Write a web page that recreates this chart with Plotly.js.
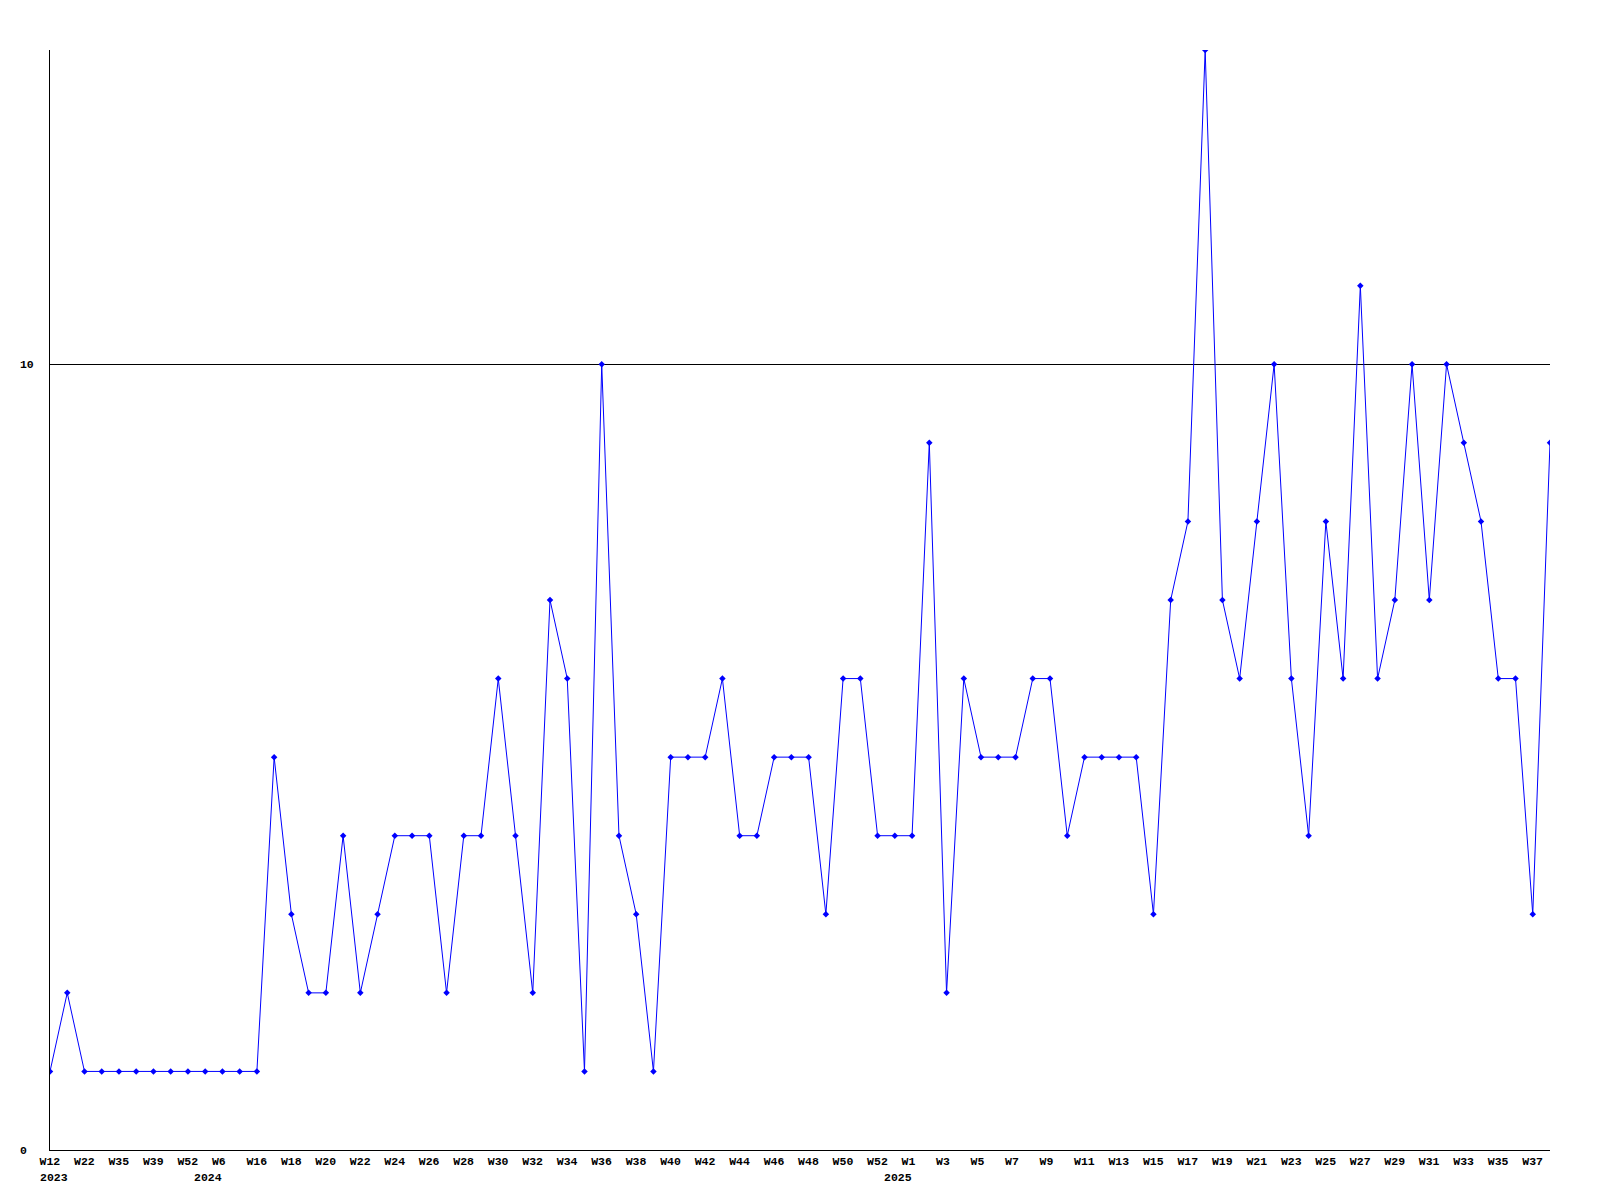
<!DOCTYPE html>
<html>
<head>
<meta charset="utf-8">
<script src="https://cdn.plot.ly/plotly-3.0.1.min.js"></script>
<style>html,body{margin:0;padding:0;background:#fff;}#chart{width:1600px;height:1200px;}</style>
</head>
<body>
<div id="chart"></div>
<script>
// Week labels for every point (odd-indexed ones are not labelled in the reference; guessed)
const weeks = [
  "W12","W17","W22","W27","W35","W37","W39","W44","W52","W1",
  "W6","W11","W16","W17","W18","W19","W20","W21","W22","W23",
  "W24","W25","W26","W27","W28","W29","W30","W31","W32","W33",
  "W34","W35","W36","W37","W38","W39","W40","W41","W42","W43",
  "W44","W45","W46","W47","W48","W49","W50","W51","W52","W53",
  "W1","W2","W3","W4","W5","W6","W7","W8","W9","W10",
  "W11","W12","W13","W14","W15","W16","W17","W18","W19","W20",
  "W21","W22","W23","W24","W25","W26","W27","W28","W29","W30",
  "W31","W32","W33","W34","W35","W36","W37","W38"
];
const years = [
  2023,2023,2023,2023,2023,2023,2023,2023,2023,2024,
  2024,2024,2024,2024,2024,2024,2024,2024,2024,2024,
  2024,2024,2024,2024,2024,2024,2024,2024,2024,2024,
  2024,2024,2024,2024,2024,2024,2024,2024,2024,2024,
  2024,2024,2024,2024,2024,2024,2024,2024,2024,2024,
  2025,2025,2025,2025,2025,2025,2025,2025,2025,2025,
  2025,2025,2025,2025,2025,2025,2025,2025,2025,2025,
  2025,2025,2025,2025,2025,2025,2025,2025,2025,2025,
  2025,2025,2025,2025,2025,2025,2025,2025
];
const values = [
  1,2,1,1,1,1,1,1,1,1,
  1,1,1,5,3,2,2,4,2,3,
  4,4,4,2,4,4,6,4,2,7,
  6,1,10,4,3,1,5,5,5,6,
  4,4,5,5,5,3,6,6,4,4,
  4,9,2,6,5,5,5,6,6,4,
  5,5,5,5,3,7,8,14,7,6,
  8,10,6,4,8,6,11,6,7,10,
  7,10,9,8,6,6,3,9
];
const yTicks = [0, 10];

const idx = values.map((_, i) => i);
const tickvals = [];
const ticktext = [];
const yearNotes = [];
let lastYear = null;
const font = {family: "Liberation Mono, DejaVu Sans Mono, monospace", size: 11.5, color: "#000", weight: "bold"};
for (let i = 0; i < weeks.length; i += 2) {
  tickvals.push(i);
  ticktext.push(weeks[i]);
  if (years[i] !== lastYear) {
    lastYear = years[i];
    yearNotes.push({
      x: i, xref: "x", y: 0, yref: "paper",
      text: String(years[i]),
      showarrow: false,
      xanchor: i === 0 ? "left" : "right",
      xshift: i === 0 ? -11 : 1,
      yanchor: "middle",
      yshift: -27,
      borderpad: 0,
      font: font
    });
  }
}

Plotly.newPlot("chart", [{
  x: idx,
  y: values,
  type: "scatter",
  mode: "lines+markers",
  line: {color: "#0000ff", width: 1},
  marker: {color: "#0000ff", symbol: "diamond", size: 5},
  hoverinfo: "skip"
}], {
  width: 1600,
  height: 1200,
  margin: {l: 50, r: 50, t: 50, b: 50},
  paper_bgcolor: "#fff",
  plot_bgcolor: "#fff",
  showlegend: false,
  font: font,
  annotations: yearNotes,
  xaxis: {
    range: [0, weeks.length - 1],
    tickmode: "array",
    tickvals: tickvals,
    ticktext: ticktext,
    showgrid: false,
    zeroline: false,
    showline: true,
    linecolor: "#000",
    linewidth: 1,
    ticks: "",
    tickfont: font,
    ticklabelposition: "outside right",
    ticklabelshift: -11,
    ticklabelstandoff: 0
  },
  yaxis: {
    range: [0, 14],
    tickmode: "array",
    tickvals: yTicks,
    ticktext: yTicks.map(v => String(v).padEnd(2, "\u00a0")),
    showgrid: true,
    gridcolor: "#000",
    gridwidth: 1,
    zeroline: false,
    showline: true,
    linecolor: "#000",
    linewidth: 1,
    ticks: "",
    tickfont: font,
    ticklabelstandoff: 13
  }
}, {displayModeBar: false, staticPlot: true});
</script>
</body>
</html>
